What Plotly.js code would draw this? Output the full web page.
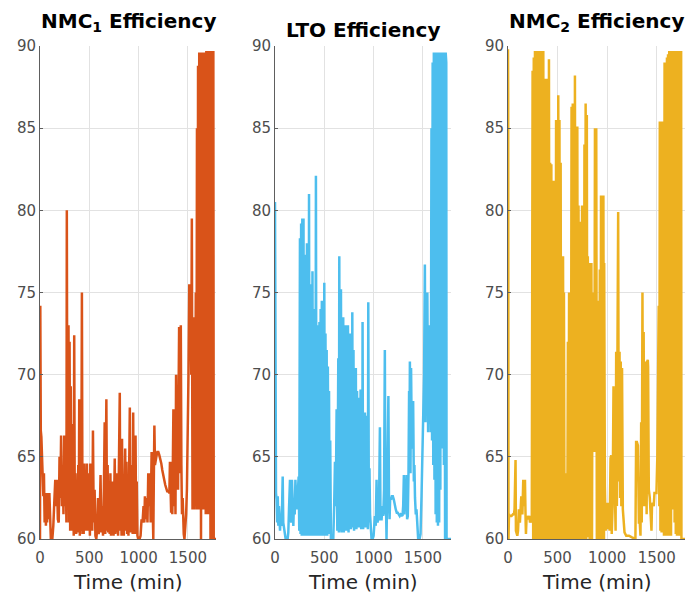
<!DOCTYPE html>
<html>
<head>
<meta charset="utf-8">
<script src="https://cdn.plot.ly/plotly-3.0.1.min.js"></script>
<style>html,body{margin:0;padding:0;background:#fff;}#chart{width:689px;height:599px;}</style>
</head>
<body>
<div id="chart"></div>
<script>
// ---------------- data ----------------
const panelTitles = ['<b>NMC<sub>1</sub> Efficiency</b>', '<b>LTO Efficiency</b>', '<b>NMC<sub>2</sub> Efficiency</b>'];
const xAxisLabel = 'Time (min)';
const timeTicks = [0, 500, 1000, 1500];
const effTicks = [60, 65, 70, 75, 80, 85, 90];

const nmc1Time = [
  0,3,8,14,20,27,34,40,47,54,
  60,66,72,80,88,95,102,110,125,135,
  146,155,163,172,181,190,198,206,214,222,
  230,238,246,254,262,268,272,278,284,289,
  294,300,306,312,318,323,330,337,342,347,
  353,360,367,374,380,388,393,398,404,410,
  418,425,431,437,443,449,455,462,468,476,
  482,488,493,500,506,510,516,522,530,537,
  545,554,562,571,580,588,595,605,614,622,
  630,639,648,656,662,668,673,680,686,692,
  700,707,714,720,727,734,740,746,752,758,
  764,770,776,784,792,800,809,815,821,827,
  832,838,844,850,857,864,870,877,884,890,
  897,904,911,917,923,928,935,940,945,951,
  957,963,969,975,981,988,996,1010,1020,1030,
  1040,1050,1058,1064,1072,1081,1090,1098,1106,1115,
  1122,1132,1140,1149,1155,1160,1166,1172,1180,1190,
  1200,1210,1220,1230,1240,1250,1260,1270,1280,1290,
  1300,1312,1318,1324,1330,1336,1342,1353,1360,1367,
  1374,1380,1387,1394,1400,1406,1411,1418,1423,1428,
  1434,1440,1447,1453,1458,1465,1472,1482,1490,1498,
  1506,1514,1520,1528,1534,1540,1547,1553,1560,1565,
  1572,1580,1586,1592,1598,1603,1609,1615,1621,1627,
  1633,1639,1645,1651,1657,1663,1669,1675,1681,1687,
  1693,1699,1705,1711,1717,1723,1729,1735,1741,1747,
  1753,1758,1762,1785];
const nmc1Eff = [
  60,74.2,66.6,66.2,64.8,64.3,62.6,64.0,61.0,62.8,
  60.8,62.8,61.0,62.8,61.2,62.8,60.6,60.0,60.0,60.8,
  62.4,63.6,62.0,63.6,61.2,61.0,65.0,62.5,66.3,62.0,
  64.5,61.5,66.3,62.0,64.0,61.0,80.0,62.0,66.0,73.0,
  61.0,72.0,60.5,69.3,60.8,67.0,60.5,63.0,60.2,72.4,
  61.0,64.0,60.3,62.5,60.4,64.5,60.5,68.5,60.2,63.5,
  60.5,75.0,60.3,63.5,60.3,64.6,60.8,64.0,60.5,64.6,
  61.0,64.0,60.5,62.5,60.2,64.6,61.0,64.0,60.5,66.6,
  61.0,63.0,60.2,60.0,60.6,62.5,60.3,61.2,63.9,60.4,
  62.0,60.2,63.0,67.1,60.3,64.0,68.5,60.5,64.5,60.4,
  62.0,60.3,64.0,60.2,62.5,60.5,63.5,60.2,62.0,64.9,
  60.3,63.0,60.4,64.0,60.2,65.0,68.9,60.5,63.5,60.2,
  66.1,60.4,63.0,60.2,64.0,65.5,60.5,64.7,60.3,63.0,
  60.2,64.0,68.0,60.4,64.5,61.0,63.5,60.3,67.7,60.5,
  62.0,60.3,66.3,60.5,63.5,60.2,60.0,60.0,60.2,61.2,
  61.0,62.0,61.0,62.6,61.2,62.5,61.0,64.0,62.0,64.0,
  61.0,65.3,62.5,60.0,64.0,66.9,64.5,64.8,65.0,65.3,
  65.3,65.1,64.9,64.6,64.2,63.8,63.5,63.3,63.1,62.9,
  62.9,62.8,64.7,62.6,61.6,64.7,61.5,67.9,62.0,66.0,
  61.5,70.0,64.0,65.0,63.0,69.0,72.9,64.0,68.0,73.0,
  64.5,61.5,62.5,61.0,60.3,60.0,60.5,61.5,63.0,65.5,
  70.0,75.5,72.0,74.0,70.0,79.5,61.8,70.0,61.8,73.5,
  62.0,75.0,61.8,85.0,62.0,88.8,61.8,89.6,62.5,89.6,
  60.0,89.6,62.0,89.6,61.8,89.6,62.2,89.6,61.5,89.7,
  62.0,89.7,61.5,89.7,62.0,89.7,60.0,89.7,60.0,89.7,
  60.0,89.7,60.0,60.0];

const ltoTime = [
  0,2,5,10,16,22,28,34,40,46,
  51,58,64,72,78,84,91,100,108,128,
  135,143,152,158,165,172,179,186,192,200,
  207,213,220,226,233,240,246,253,259,265,
  271,277,283,289,295,301,307,313,319,324,
  330,336,342,345,351,357,362,368,374,380,
  386,392,398,404,410,415,421,427,433,439,
  445,451,457,463,469,475,481,487,493,500,
  506,512,518,524,530,536,542,548,554,560,
  567,574,585,591,600,608,616,625,632,642,
  648,652,658,664,669,675,681,686,692,698,
  704,710,716,722,728,734,740,746,752,758,
  764,770,776,782,784,790,796,802,808,814,
  820,826,832,838,844,850,856,862,868,874,
  880,886,888,894,900,906,912,918,924,930,
  936,942,946,952,958,964,972,979,990,1000,
  1013,1022,1030,1038,1047,1055,1064,1070,1081,1090,
  1098,1106,1114,1120,1126,1131,1138,1150,1156,1162,
  1168,1176,1185,1195,1205,1215,1225,1235,1245,1255,
  1265,1275,1285,1293,1300,1307,1312,1320,1327,1334,
  1340,1347,1354,1360,1364,1368,1374,1380,1387,1394,
  1401,1408,1414,1420,1428,1435,1442,1452,1466,1476,
  1486,1494,1503,1512,1520,1526,1532,1537,1545,1553,
  1560,1566,1572,1580,1587,1593,1599,1605,1611,1617,
  1623,1629,1635,1641,1647,1653,1659,1665,1671,1677,
  1683,1689,1695,1701,1707,1713,1719,1725,1731,1737,
  1740,1785];
const ltoEff = [
  80.5,76.8,63.0,62.8,62.4,61.0,62.6,60.8,62.0,60.6,
  60.5,61.5,60.8,62.0,63.8,61.0,60.6,60.2,60.0,60.0,
  60.4,62.0,63.6,61.5,61.0,63.6,62.0,60.8,62.2,61.5,
  63.6,62.5,61.8,62.2,63.5,63.8,60.5,78.3,60.3,79.2,
  60.2,79.5,60.3,79.5,60.2,77.3,60.3,76.5,60.2,78.0,
  60.4,77.0,60.2,81.0,60.3,75.5,60.2,73.0,60.3,76.3,
  60.2,74.0,60.4,73.5,60.2,82.1,60.3,73.0,60.2,73.0,
  60.4,73.2,60.2,74.0,60.3,74.5,60.2,73.0,60.3,75.6,
  60.2,72.5,60.4,71.5,60.2,70.5,60.5,69.0,60.3,66.0,
  60.0,60.0,60.2,60.0,62.0,64.7,62.0,67.9,60.5,71.0,
  60.4,77.2,60.5,72.6,75.2,60.4,72.0,60.6,73.5,60.4,
  72.0,60.8,73.0,60.5,71.9,60.6,73.0,60.4,71.9,61.0,
  72.5,60.6,71.0,60.8,73.8,60.7,71.5,60.5,70.0,60.9,
  70.4,60.6,69.0,61.0,68.4,60.7,68.6,61.0,69.1,60.6,
  68.0,60.8,73.2,60.6,66.7,61.0,67.7,60.7,67.5,61.0,
  66.0,60.6,74.4,61.0,64.3,61.5,60.4,60.0,60.0,60.2,
  61.4,60.8,63.6,61.0,61.2,62.0,66.8,61.2,61.2,62.0,
  61.4,63.0,71.5,61.5,62.0,60.0,63.0,68.7,62.5,61.2,
  62.5,62.4,62.6,62.6,62.4,62.0,61.8,61.6,61.6,61.5,
  61.4,61.5,61.4,61.4,62.0,63.9,61.5,63.0,61.8,63.9,
  61.2,61.4,64.0,69.0,65.0,70.8,64.0,70.4,66.0,65.5,
  68.4,63.5,64.5,62.5,61.5,61.8,61.0,60.0,60.0,60.3,
  62.6,65.0,68.7,70.0,76.7,67.1,72.0,67.5,75.0,66.5,
  72.0,67.0,73.0,66.5,85.0,66.0,89.0,64.5,89.6,63.6,
  89.6,61.5,89.6,61.0,88.4,60.8,89.6,61.0,89.6,63.0,
  89.6,66.0,89.6,65.5,89.6,64.5,89.6,60.0,89.6,89.0,
  60.0,60.0];

const nmc2Time = [
  0,2,5,10,20,35,50,60,66,70,
  76,80,94,101,110,120,134,145,154,163,
  171,178,181,188,201,215,222,230,240,248,
  254,260,266,272,278,284,290,296,302,308,
  314,320,326,332,338,344,350,356,362,368,
  374,380,386,392,398,404,410,413,419,425,
  431,437,443,449,455,461,467,473,479,485,
  491,497,503,507,513,519,525,531,537,543,
  549,555,561,564,570,584,590,598,604,610,
  616,622,628,634,641,647,653,659,665,671,
  675,681,687,693,699,705,711,717,723,729,
  735,741,747,753,759,765,771,777,783,789,
  795,801,805,811,817,823,829,835,841,847,
  853,859,865,871,877,883,890,896,902,908,
  914,920,926,932,938,944,950,956,962,968,
  970,977,985,994,1004,1017,1025,1034,1041,1046,
  1055,1064,1070,1078,1085,1091,1098,1104,1111,1117,
  1125,1131,1137,1143,1150,1158,1165,1175,1192,1220,
  1250,1276,1285,1292,1300,1310,1320,1329,1336,1343,
  1349,1356,1362,1368,1374,1380,1386,1392,1398,1404,
  1410,1413,1420,1430,1440,1447,1452,1460,1470,1477,
  1490,1497,1506,1514,1520,1526,1531,1537,1543,1549,
  1555,1561,1567,1573,1579,1585,1591,1597,1603,1609,
  1614,1620,1626,1632,1638,1644,1650,1656,1662,1668,
  1674,1680,1686,1692,1698,1704,1710,1716,1722,1728,
  1734,1740,1746,1749,1785];
const nmc2Eff = [
  89.8,87.0,60.0,61.5,61.4,61.4,61.5,61.5,61.8,64.8,
  64.8,60.5,60.2,60.5,61.8,61.0,62.6,61.5,63.6,62.0,
  63.6,61.0,60.3,61.4,61.2,61.4,61.0,61.2,61.0,88.5,
  60.0,89.3,60.1,89.7,60.0,89.7,60.2,89.7,60.0,89.7,
  60.1,89.7,60.0,89.7,60.2,89.7,60.0,89.7,60.1,82.3,
  60.0,88.0,60.2,88.0,60.0,85.0,60.1,89.2,60.0,82.9,
  60.2,82.8,60.0,80.0,60.1,81.8,60.0,81.8,60.2,85.5,
  60.0,84.0,60.1,87.0,60.0,85.5,60.2,82.9,60.0,77.2,
  60.1,77.2,60.0,75.0,60.0,64.0,60.0,60.0,72.0,60.1,
  75.0,60.0,75.0,60.2,86.3,60.0,86.5,60.1,86.5,60.0,
  88.2,60.2,85.1,60.0,85.1,60.1,80.3,60.0,79.3,60.2,
  79.0,60.0,80.3,60.1,80.1,60.0,84.0,60.2,86.5,60.0,
  85.8,60.1,77.2,65.0,74.5,60.0,76.8,60.2,76.8,60.0,
  75.0,65.3,75.0,66.0,85.0,65.3,85.0,60.0,74.5,60.2,
  74.5,60.0,76.4,60.1,80.9,60.0,80.9,60.2,80.9,60.0,
  76.8,63.2,60.5,62.2,60.6,62.2,60.5,64.9,65.1,60.3,
  62.0,69.3,63.0,63.0,60.5,71.4,62.0,71.4,79.9,63.5,
  71.4,62.5,70.8,62.0,70.4,61.8,61.0,60.4,60.2,60.2,
  60.1,60.0,60.0,65.9,65.9,65.7,61.0,61.0,60.2,67.1,
  61.0,75.0,62.0,72.6,63.0,70.8,62.0,70.2,61.5,70.8,
  70.9,70.5,63.0,62.5,60.6,60.5,62.0,62.2,62.0,62.8,
  62.8,62.8,65.0,72.2,74.2,62.0,85.4,60.5,85.4,60.4,
  85.4,60.5,84.7,60.2,89.0,60.2,89.0,60.2,89.3,60.2,
  89.5,60.2,89.7,60.2,89.7,60.2,89.7,61.9,89.7,61.8,
  89.7,61.0,89.7,60.3,89.7,60.2,89.7,60.2,89.7,60.2,
  89.7,60.2,89.7,60.0,60.0];

const seriesColors = ['#D95319', '#4DBEEE', '#EDB120'];

// ---------------- layout geometry ----------------
const W = 689, H = 599;
const xDomainsPx = [[40, 216], [275, 451], [508, 685]];
const yTopPx = 46, yBottomPx = 539;
const fx = p => p / W;
const fy = p => 1 - p / H;

const series = [[nmc1Time, nmc1Eff], [ltoTime, ltoEff], [nmc2Time, nmc2Eff]];
const traces = series.map((s, i) => ({
  type: 'scatter', mode: 'lines',
  x: s[0], y: s[1],
  xaxis: i === 0 ? 'x' : 'x' + (i + 1),
  yaxis: i === 0 ? 'y' : 'y' + (i + 1),
  line: {color: seriesColors[i], width: 2.5},
  hoverinfo: 'skip', showlegend: false
}));

const tickFont = {family: 'DejaVu Sans, Liberation Sans, sans-serif', size: 15, color: '#4d4d4d'};
const axisCommon = {
  showgrid: true, gridcolor: '#e2e2e2', gridwidth: 1,
  zeroline: false, showline: true, linecolor: '#5e5e5e', linewidth: 1,
  ticks: 'inside', ticklen: 3, tickcolor: '#5e5e5e', tickwidth: 1,
  tickfont: tickFont, fixedrange: true
};

const layout = {
  width: W, height: H, autosize: false,
  margin: {l: 0, r: 0, t: 0, b: 0, pad: 0},
  paper_bgcolor: '#ffffff', plot_bgcolor: '#ffffff',
  showlegend: false,
  annotations: []
};

xDomainsPx.forEach((d, i) => {
  const sfx = i === 0 ? '' : String(i + 1);
  layout['xaxis' + sfx] = Object.assign({}, axisCommon, {
    domain: [fx(d[0]), fx(d[1])], range: [0, 1785],
    tickmode: 'array', tickvals: timeTicks, ticktext: timeTicks.map(String),
    ticks: 'outside', ticklen: 5, tickcolor: 'rgba(0,0,0,0)',
    anchor: 'y' + sfx
  });
  layout['yaxis' + sfx] = Object.assign({}, axisCommon, {
    domain: [fy(yBottomPx), fy(yTopPx)], range: [60, 90],
    tickmode: 'array', tickvals: effTicks, ticktext: effTicks.map(String),
    anchor: 'x' + sfx
  });
  const cx = fx((d[0] + d[1]) / 2);
  layout.annotations.push({
    xref: 'paper', yref: 'paper', x: cx, y: fy(i === 1 ? 30 : 22),
    xanchor: 'center', yanchor: 'middle', showarrow: false,
    text: panelTitles[i],
    font: {family: 'DejaVu Sans, Liberation Sans, sans-serif', size: 20, color: '#000000'}
  });
  layout.annotations.push({
    xref: 'paper', yref: 'paper', x: cx, y: fy(582),
    xanchor: 'center', yanchor: 'middle', showarrow: false,
    text: xAxisLabel,
    font: {family: 'DejaVu Sans, Liberation Sans, sans-serif', size: 20, color: '#262626'}
  });
});

Plotly.newPlot('chart', traces, layout, {displayModeBar: false, staticPlot: true});
</script>
</body>
</html>
